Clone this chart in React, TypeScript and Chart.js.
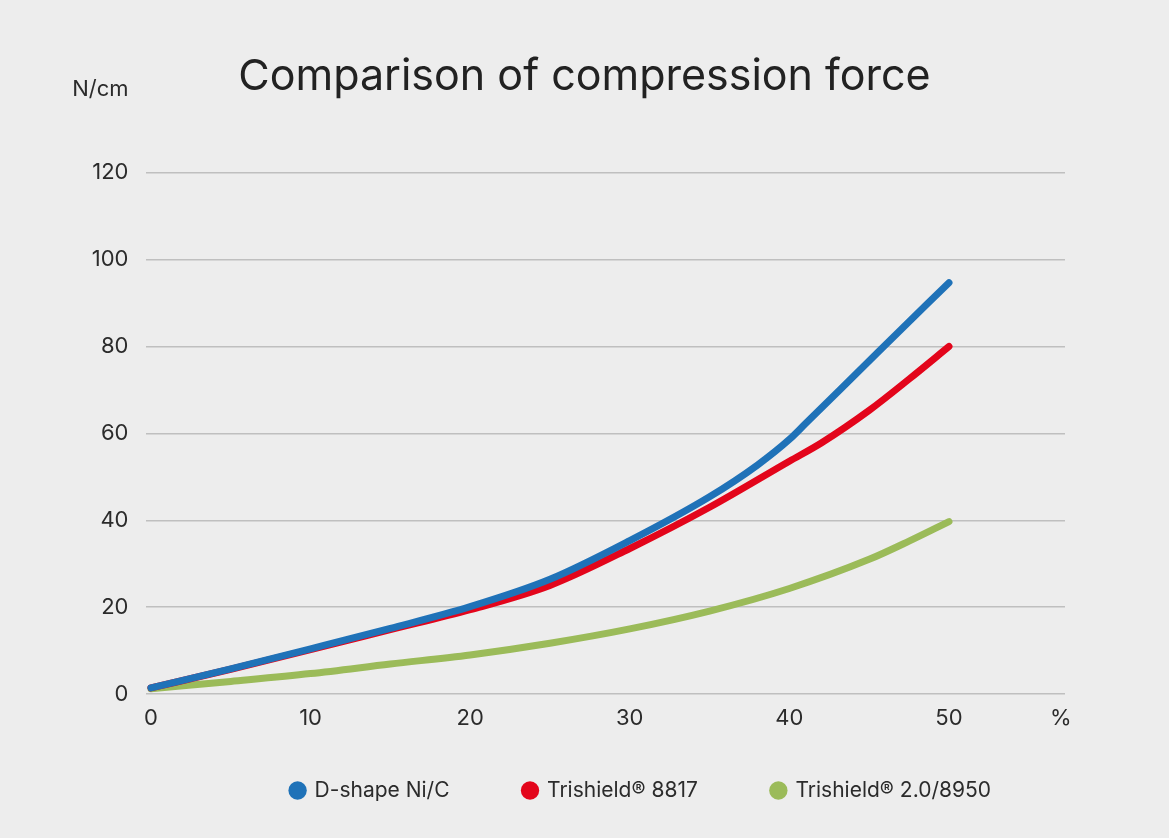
import React, { useEffect, useRef } from 'react';
import { Chart, registerables } from 'chart.js';

Chart.register(...registerables);

const TITLE = 'Comparison of compression force';
const Y_UNIT = 'N/cm';
const X_UNIT = '%';
const X_UNIT_AT = 57;
const X_TICKS = [0, 10, 20, 30, 40, 50];
const Y_TICK_STEP = 20;
const Y_MAX = 120;

const SERIES_NAMES = ['D-shape Ni/C', 'Trishield® 8817', 'Trishield® 2.0/8950'];
const SERIES_COLORS = ['#1f72b8', '#e3051b', '#9bbb59'];

const DSHAPE_X = [0, 5, 10, 15, 20, 25, 30, 35, 38, 40, 41, 45.5, 50];
const DSHAPE_Y = [1.4, 5.8, 10.4, 15.1, 20.1, 26.4, 35.3, 45.4, 52.7, 58.6, 62.2, 78.5, 94.7];

const T8817_X = [0, 5, 10, 15, 20, 25, 30, 35, 40, 42, 45, 47.5, 50];
const T8817_Y = [1.4, 5.7, 10.2, 14.8, 19.4, 25.0, 33.5, 43.0, 53.6, 57.8, 65.3, 72.5, 80.0];

const T8950_X = [0, 5, 10, 15, 20, 25, 30, 35, 40, 45, 47.5, 50];
const T8950_Y = [1.2, 2.9, 4.7, 6.9, 9.0, 11.7, 15.0, 19.1, 24.3, 31.0, 35.2, 39.7];

const FONT = 'Inter, "Noto Sans", sans-serif';
const TEXT = '#2b2b2b';

const toPoints = (xs: number[], ys: number[]) => xs.map((x, i) => ({ x, y: ys[i] }));

const unitPlugin = {
  id: 'yUnitLabel',
  afterDraw(chart: any) {
    const ys = chart.scales.y;
    const ctx = chart.ctx;
    ctx.save();
    ctx.font = `22px ${FONT}`;
    ctx.fillStyle = TEXT;
    ctx.textAlign = 'right';
    ctx.textBaseline = 'middle';
    ctx.fillText(Y_UNIT, ys.right - 17.5, 89.5);
    ctx.restore();
  },
};

export default function App() {
  const ref = useRef<HTMLCanvasElement | null>(null);

  useEffect(() => {
    document.body.style.margin = '0';
    const canvas = ref.current;
    if (!canvas) return;
    const seriesX = [DSHAPE_X, T8817_X, T8950_X];
    const seriesY = [DSHAPE_Y, T8817_Y, T8950_Y];
    const chart = new Chart(canvas, {
      type: 'line',
      data: {
        datasets: SERIES_NAMES.map((name, i) => ({
          label: name,
          data: toPoints(seriesX[i], seriesY[i]),
          borderColor: SERIES_COLORS[i],
          backgroundColor: SERIES_COLORS[i],
          borderWidth: 7,
          borderCapStyle: 'round',
          borderJoinStyle: 'round',
          pointRadius: 0,
          pointHoverRadius: 0,
          cubicInterpolationMode: 'monotone',
          fill: false,
        })) as any,
      },
      options: {
        responsive: false,
        animation: false,
        layout: { padding: { top: 0, left: 0, right: 0, bottom: 27 } },
        plugins: {
          title: {
            display: true,
            text: TITLE,
            color: '#222',
            font: { family: FONT, size: 43, weight: 'normal' },
            padding: { top: 51, bottom: 70.2 },
          },
          legend: {
            position: 'bottom',
            align: 'end',
            fullSize: false,
            labels: {
              usePointStyle: true,
              pointStyle: 'circle',
              boxWidth: 13,
              boxHeight: 13,
              padding: 74,
              color: TEXT,
              font: { family: FONT, size: 21 },
              generateLabels: (c: any) =>
                (Chart as any).defaults.plugins.legend.labels
                  .generateLabels(c)
                  .map((l: any) => ({ ...l, lineWidth: 0, strokeStyle: 'transparent' })),
            },
          },
          tooltip: { enabled: false },
        },
        scales: {
          x: {
            type: 'linear',
            min: -0.31,
            max: 57.27,
            grid: { display: false, drawTicks: false },
            border: { display: false },
            afterBuildTicks: (s: any) => {
              s.ticks = [...X_TICKS, X_UNIT_AT].map((v) => ({ value: v }));
            },
            afterFit: (s: any) => {
              s.height = 12;
              s._computeLabelArea = () => undefined;
            },
            ticks: {
              autoSkip: false,
              maxRotation: 0,
              padding: 11,
              color: TEXT,
              font: { family: FONT, size: 22 },
              callback: (v: any) => (v === X_UNIT_AT ? X_UNIT : String(v)),
            },
          },
          y: {
            type: 'linear',
            min: 0,
            max: Y_MAX,
            grid: { color: '#bfbfbf', lineWidth: 1.5, drawTicks: false },
            border: { display: false },
            afterFit: (s: any) => {
              s.width = 146;
            },
            ticks: {
              stepSize: Y_TICK_STEP,
              padding: 17.5,
              color: TEXT,
              font: { family: FONT, size: 22 },
            },
          },
          y2: {
            type: 'linear',
            position: 'right',
            display: true,
            grid: { display: false, drawTicks: false },
            border: { display: false },
            ticks: { display: false },
            afterFit: (s: any) => {
              s.width = 104;
            },
          },
        },
      } as any,
      plugins: [unitPlugin],
    });
    return () => chart.destroy();
  }, []);

  return (
    <div style={{ width: 1169, height: 838, background: '#ededed' }}>
      <canvas ref={ref} width={1169} height={838} style={{ display: 'block' }} />
    </div>
  );
}
